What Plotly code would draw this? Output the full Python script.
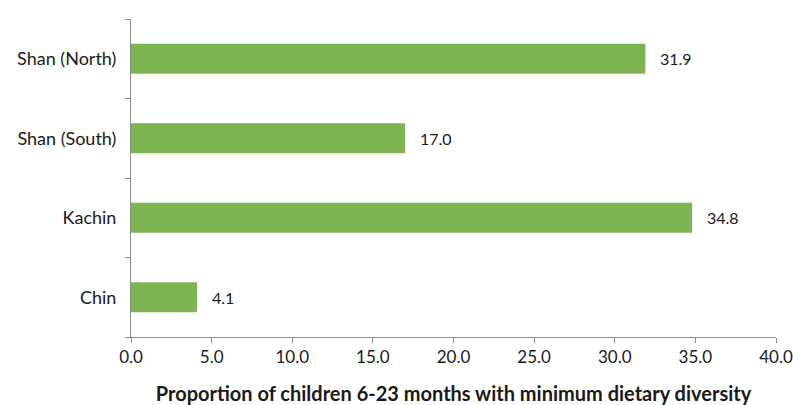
import plotly.graph_objects as go

categories = ["Shan (North)", "Shan (South)", "Kachin", "Chin"]
values = [31.9, 17.0, 34.8, 4.1]
x_ticks = [0, 5, 10, 15, 20, 25, 30, 35, 40]
x_tick_labels = ["0.0", "5.0", "10.0", "15.0", "20.0", "25.0", "30.0", "35.0", "40.0"]
x_title = "Proportion of children 6-23 months with minimum dietary diversity"

FONT = "Lato"
TXT = "#1a1a1a"
AX = "#8c8c8c"

fig = go.Figure(go.Bar(
    x=values,
    y=categories,
    orientation="h",
    marker=dict(color="#7DB553", line=dict(width=0)),
    width=0.38,
    hoverinfo="skip",
))

for c, v in zip(categories, values):
    fig.add_annotation(
        x=v, y=c, text=f"{v:.1f}", showarrow=False,
        xanchor="left", yanchor="middle", xshift=13,
        font=dict(family=FONT, size=16, color=TXT),
    )

fig.update_layout(
    width=793, height=405,
    margin=dict(l=131, r=17, t=19, b=68),
    plot_bgcolor="white", paper_bgcolor="white",
    showlegend=False,
    xaxis=dict(
        range=[0, 40], tickvals=x_ticks, ticktext=x_tick_labels,
        showgrid=False, zeroline=False, automargin=False,
        showline=True, linecolor=AX, linewidth=1,
        ticks="outside", ticklen=5, tickcolor=AX,
        tickfont=dict(family=FONT, size=17, color=TXT),
        title=dict(text="<b>" + x_title + "</b>", standoff=25,
                   font=dict(family=FONT, size=20, color=TXT)),
    ),
    yaxis=dict(
        categoryorder="array", categoryarray=categories[::-1],
        showgrid=False, zeroline=False, automargin=False,
        showline=True, linecolor=AX, linewidth=1,
        ticks="outside", ticklen=5, tickcolor=AX,
        tickson="boundaries",
        tickfont=dict(family=FONT, size=18, color=TXT),
        ticklabelstandoff=10,
    ),
)

# remove the default page margin so the figure fills the window exactly
fig.write_html(
    "out.html",
    config={"displayModeBar": False},
    post_script="document.body.style.margin='0';document.body.style.overflow='hidden';",
)
